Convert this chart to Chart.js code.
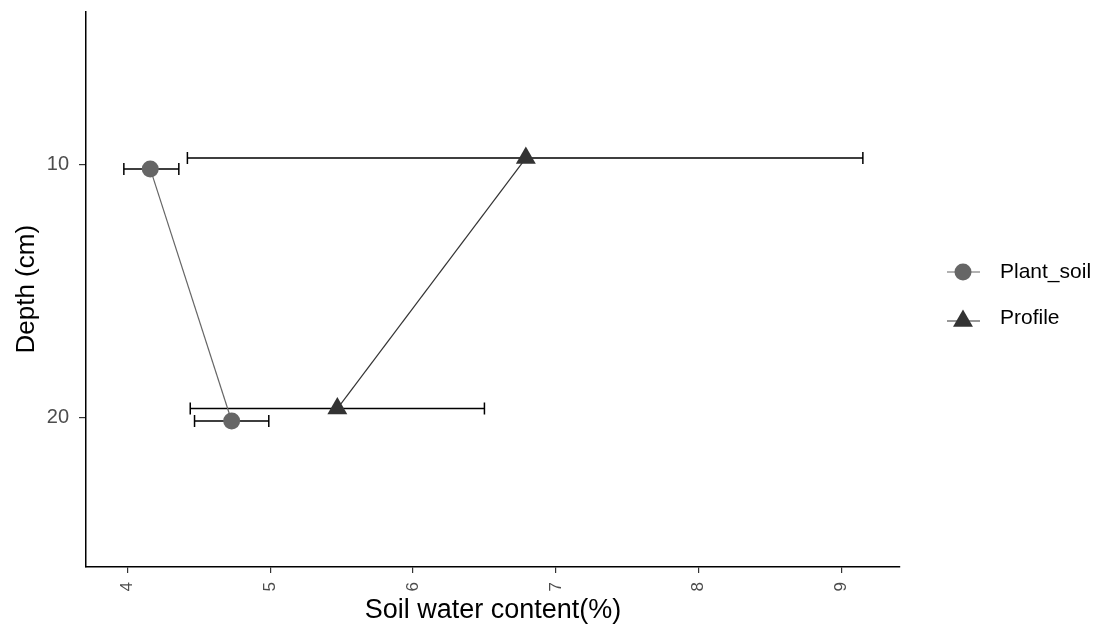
<!DOCTYPE html>
<html lang="en">
<head>
<meta charset="UTF-8">
<title>Soil water content by depth</title>
<script src="https://cdn.jsdelivr.net/npm/chart.js"></script>
<style>
    body {
        margin: 0;
        background: #fff;
    }
</style>
</head>
<body>
<canvas id="depthChart" width="1110" height="634"></canvas>
<script>
    // values
    const seriesNames = ['Plant_soil', 'Profile'];
    const plantWater = [4.16, 4.73];
    const plantDepth = [10.17, 20.13];
    const plantLow = [3.975, 4.47];
    const plantHigh = [4.36, 4.99];
    const profileWater = [6.79, 5.47];
    const profileDepth = [9.74, 19.64];
    const profileLow = [4.42, 4.44];
    const profileHigh = [9.15, 6.50];
    const xTicks = [4, 5, 6, 7, 8, 9];
    const yTicks = [10, 20];

    const FONT = '"Liberation Sans", Arial, sans-serif';

    function toPoints(xs, ys) {
        return xs.map((x, i) => ({x: x, y: ys[i]}));
    }

    // horizontal error bars, drawn under the points
    const errorBars = {
        id: 'errorBars',
        beforeDatasetsDraw(chart) {
            const ctx = chart.ctx;
            const xs = chart.scales.x, ys = chart.scales.y;
            ctx.save();
            ctx.strokeStyle = '#000';
            ctx.lineWidth = 1.5;
            chart.data.datasets.forEach(ds => {
                ds.data.forEach((p, i) => {
                    const y = ys.getPixelForValue(p.y);
                    const x0 = xs.getPixelForValue(ds.errLow[i]);
                    const x1 = xs.getPixelForValue(ds.errHigh[i]);
                    ctx.beginPath();
                    ctx.moveTo(x0, y); ctx.lineTo(x1, y);
                    ctx.moveTo(x0, y - 6); ctx.lineTo(x0, y + 6);
                    ctx.moveTo(x1, y - 6); ctx.lineTo(x1, y + 6);
                    ctx.stroke();
                });
            });
            ctx.restore();
        }
    };

    // ggplot style legend: line through the marker
    const sideLegend = {
        id: 'sideLegend',
        afterDraw(chart) {
            const ctx = chart.ctx;
            ctx.save();
            chart.data.datasets.forEach((ds, i) => {
                const cy = 272 + i * 49;
                ctx.strokeStyle = ds.borderColor;
                ctx.lineWidth = 1.2;
                ctx.beginPath();
                ctx.moveTo(947, cy); ctx.lineTo(980, cy);
                ctx.stroke();
                ctx.fillStyle = ds.pointBackgroundColor;
                ctx.beginPath();
                if (ds.pointStyle === 'triangle') {
                    const r = ds.pointRadius;
                    ctx.moveTo(963, cy - r);
                    ctx.lineTo(963 + r * 0.866, cy + r * 0.5);
                    ctx.lineTo(963 - r * 0.866, cy + r * 0.5);
                    ctx.closePath();
                } else {
                    ctx.arc(963, cy, ds.pointRadius, 0, Math.PI * 2);
                }
                ctx.fill();
                ctx.fillStyle = '#000';
                ctx.font = '21px ' + FONT;
                ctx.textBaseline = 'middle';
                ctx.textAlign = 'left';
                ctx.fillText(ds.label, 1000, cy - (i === 1 ? 3 : 0));
            });
            ctx.restore();
        }
    };

    new Chart(document.getElementById('depthChart'), {
        type: 'scatter',
        data: {
            datasets: [{
                label: seriesNames[0],
                data: toPoints(plantWater, plantDepth),
                errLow: plantLow,
                errHigh: plantHigh,
                showLine: true,
                borderColor: '#666666',
                borderWidth: 1.2,
                pointStyle: 'circle',
                pointRadius: 8.5,
                pointBackgroundColor: '#666666',
                pointBorderWidth: 0
            }, {
                label: seriesNames[1],
                data: toPoints(profileWater, profileDepth),
                errLow: profileLow,
                errHigh: profileHigh,
                showLine: true,
                borderColor: '#333333',
                borderWidth: 1.2,
                pointStyle: 'triangle',
                pointRadius: 11.5,
                pointBackgroundColor: '#333333',
                pointBorderWidth: 0
            }]
        },
        options: {
            responsive: false,
            animation: false,
            layout: {padding: {left: 8, top: 4, right: 210, bottom: 7}},
            plugins: {
                legend: {display: false},
                tooltip: {enabled: false}
            },
            scales: {
                x: {
                    type: 'linear',
                    min: 3.71,
                    max: 9.41,
                    afterBuildTicks(scale) {
                        scale.ticks = xTicks.map(v => ({value: v}));
                    },
                    afterFit(scale) {
                        scale.height = 60;
                        scale.paddingLeft = 0;
                        scale.paddingRight = 0;
                    },
                    grid: {display: true, drawOnChartArea: false, drawTicks: true, tickLength: 6, color: '#333', lineWidth: 1.2},
                    border: {display: true, color: '#000', width: 1.5},
                    ticks: {
                        minRotation: 90, maxRotation: 90,
                        color: '#4d4d4d',
                        font: {family: FONT, size: 17},
                        padding: 9
                    },
                    title: {display: true, text: 'Soil water content(%)', color: '#000', font: {family: FONT, size: 27}, padding: {top: 2, bottom: 0}}
                },
                y: {
                    type: 'linear',
                    reverse: true,
                    min: 3.95,
                    max: 25.9,
                    afterBuildTicks(scale) {
                        scale.ticks = yTicks.map(v => ({value: v}));
                    },
                    afterFit(scale) {
                        scale.width = 78;
                        scale.paddingTop = 0;
                        scale.paddingBottom = 0;
                    },
                    grid: {display: true, drawOnChartArea: false, drawTicks: true, tickLength: 7, color: '#333', lineWidth: 1.2},
                    border: {display: true, color: '#000', width: 1.5},
                    ticks: {
                        color: '#4d4d4d',
                        font: {family: FONT, size: 20},
                        padding: 10
                    },
                    title: {display: true, text: 'Depth (cm)', color: '#000', font: {family: FONT, size: 26}, padding: {top: 3, bottom: 4}}
                }
            }
        },
        plugins: [errorBars, sideLegend]
    });
</script>
</body>
</html>
